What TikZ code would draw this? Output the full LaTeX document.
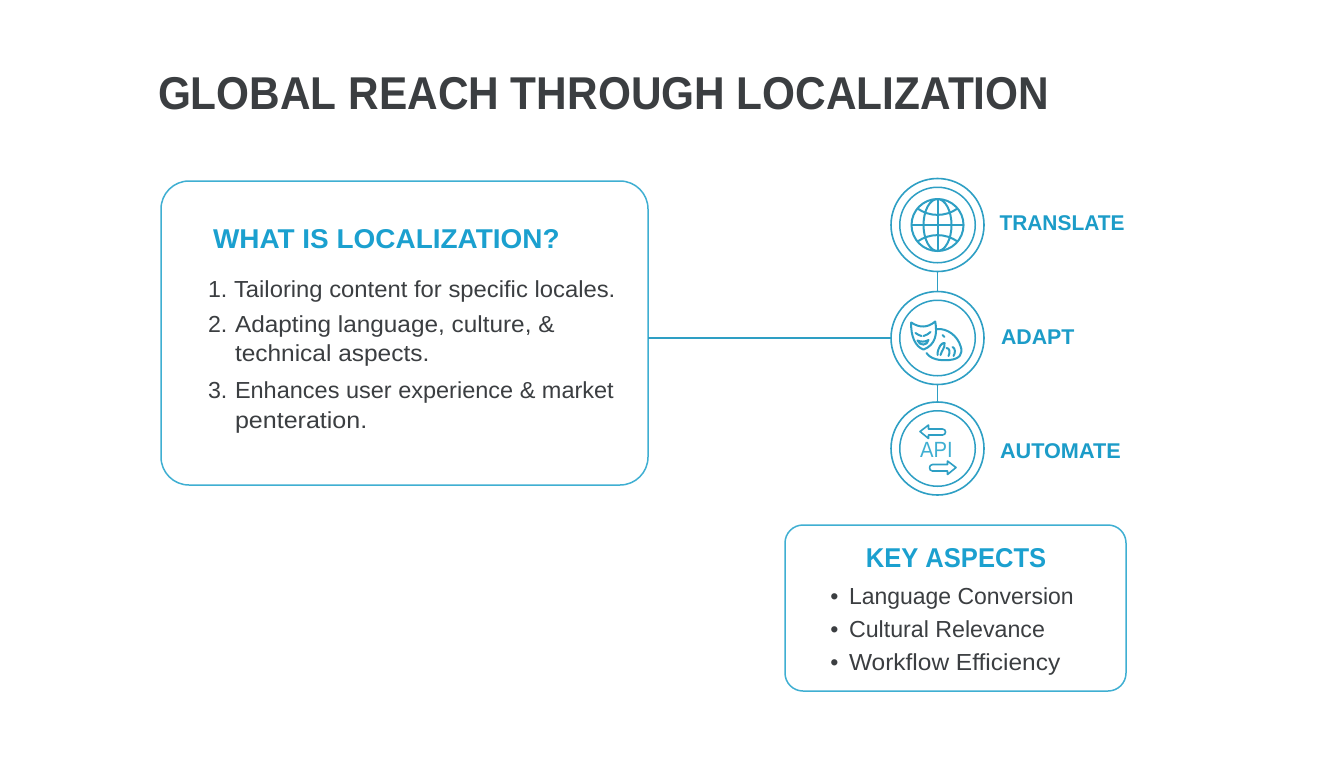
\documentclass[tikz,border=0pt]{standalone}
\usepackage{fontspec}
\setmainfont{Liberation Sans}
\definecolor{accent}{HTML}{1BA0CF}
\definecolor{labelc}{HTML}{1C9CC8}
\definecolor{strokec}{HTML}{3FAFD2}
\definecolor{iconc}{HTML}{2E9FC4}
\definecolor{darktext}{HTML}{3B3E41}
\newcommand{\sx}[2]{\scalebox{#1}[1]{#2}}
\tikzset{
  txt/.style={inner sep=0pt,outer sep=0pt,anchor=base west},
  titletext/.style={txt,text=darktext,font=\fontsize{34.5}{40}\selectfont\bfseries},
  headtext/.style={txt,text=accent,font=\fontsize{20.4}{24}\selectfont\bfseries},
  bodytext/.style={txt,text=darktext,font=\fontsize{17.4}{20}\selectfont},
  sidetext/.style={txt,text=labelc,font=\fontsize{16}{20}\selectfont\bfseries},
  panel/.style={draw=strokec,line width=1.5pt*0.75,fill=white,inner sep=0pt,outer sep=0pt},
  ring/.style={circle,draw=iconc,line width=1.6pt*0.75,fill=white,minimum size=93*0.75pt,inner sep=0pt,outer sep=0pt},
  innerring/.style={circle,draw=iconc,line width=1.5pt*0.75,minimum size=75.5*0.75pt,inner sep=0pt,outer sep=0pt},
  link/.style={draw=iconc,line width=1.5pt*0.75},
  icon/.style={draw=iconc,line width=2pt*0.75,line join=round,line cap=round},
}
\begin{document}
\begin{tikzpicture}[x=0.75pt,y=-0.75pt]
\useasboundingbox (0,0) rectangle (1344,768);
\fill[white] (0,0) rectangle (1344,768);

\node[titletext] (title) at (158,109) {\sx{0.921}{GLOBAL REACH THROUGH LOCALIZATION}};

% main panel
\node[panel,rounded corners=28*0.75pt,minimum width=487*0.75pt,minimum height=304*0.75pt,anchor=north west] (box) at (161,181) {};
\node[headtext] (whatis) at (213,248) {\sx{1.027}{WHAT IS LOCALIZATION?}};
\node[bodytext] (n1) at (208,297) {1.};
\node[bodytext] (l1) at (234,297) {\sx{1.027}{Tailoring content for specific locales.}};
\node[bodytext] (n2) at (208,332) {2.};
\node[bodytext] (l2) at (235,332) {\sx{1.05}{Adapting language, culture, \&}};
\node[bodytext] (l2b) at (235,361) {\sx{1.054}{technical aspects.}};
\node[bodytext] (n3) at (208,398) {3.};
\node[bodytext] (l3) at (235,398) {\sx{1.013}{Enhances user experience \& market}};
\node[bodytext] (l3b) at (235,428) {\sx{1.08}{penteration.}};

% rings
\node[ring] (translate) at (937.5,225) {};
\node[ring] (adapt) at (937.5,338) {};
\node[ring] (automate) at (937.5,448.5) {};
\node[innerring] (translatei) at (translate) {};
\node[innerring] (adapti) at (adapt) {};
\node[innerring] (automatei) at (automate) {};

% connectors
\draw[link] (translate.south) -- (adapt.north);
\draw[link] (adapt.south) -- (automate.north);
\draw[link] (box.east |- adapt.west) -- (adapt.west);

% globe
\begin{scope}[shift={(translate)},icon]
  \draw (0,0) circle [radius=26];
  \draw (-26,0) -- (26,0);
  \draw (0,-26) -- (0,26);
  \draw (0,0) ellipse [x radius=14,y radius=26];
  \draw (-20,-16.5) .. controls (-8,-8) and (8,-8) .. (20,-16.5);
  \draw (-20,16.5) .. controls (-8,8) and (8,8) .. (20,16.5);
\end{scope}

% masks
\begin{scope}[shift={(adapt)},icon]
  \draw (-26.3,-15.5) .. controls (-18,-10) and (-10,-10) .. (-2.3,-16.5)
        .. controls (0,-4) and (-2,7) .. (-14,11.5)
        .. controls (-22,9) and (-27,-2) .. (-26.3,-15.5);
  \draw (-22,-5) .. controls (-20,-3) and (-18,-3) .. (-16,-2);
  \draw (-14,-2) .. controls (-11,-3) and (-9,-4) .. (-7,-6);
  \draw (-20,2.5) .. controls (-17,4) and (-12,4) .. (-9,2)
        .. controls (-10,8) and (-18,8) .. (-20,2.5);
  \draw (-1,-9) .. controls (10,-10) and (20,-2) .. (23,8)
        .. controls (26,16) and (22,21) .. (12,22)
        .. controls (2,23) and (-7,21) .. (-11,15);
  \draw (5,-3) -- (7,-1);
  \draw (0,17) .. controls (0,9) and (5,4) .. (7,5) .. controls (8,9) and (4,13) .. (3,17);
  \draw (9,10) .. controls (12,10) and (13,14) .. (11,18);
  \draw (15,9) .. controls (18,10) and (18,15) .. (16,18);
\end{scope}

% API icon
\node[txt,anchor=center,text=strokec,font=\fontsize{16.5}{18}\selectfont] (api) at ([xshift=-1*0.75pt,yshift=-1.5*0.75pt]automate.center) {\sx{0.92}{API}};
\begin{scope}[shift={(automate)},icon,line width=1.6pt*0.75]
  \draw (-17.5,-17) -- (-9,-23.5) -- (-9,-19.5) -- (5,-19.5)
        .. controls (9,-19.5) and (9,-13.5) .. (5,-13.5)
        -- (-9,-13.5) -- (-9,-10) -- cycle;
  \draw (18.5,19) -- (10,12.5) -- (10,16) -- (-5,16)
        .. controls (-9,16) and (-9,22.5) .. (-5,22.5)
        -- (10,22.5) -- (10,26) -- cycle;
\end{scope}

\node[sidetext] (t1) at (999.5,230) {\sx{0.98}{TRANSLATE}};
\node[sidetext] (t2) at (1001,344) {ADAPT};
\node[sidetext] (t3) at (1000,458) {\sx{1.015}{AUTOMATE}};

% key aspects
\node[panel,rounded corners=18*0.75pt,minimum width=341*0.75pt,minimum height=166*0.75pt,anchor=north west] (keybox) at (785,525) {};
\node[headtext,anchor=base] (keyhead) at (956,567) {\sx{0.94}{KEY ASPECTS}};
\node[bodytext,anchor=base] (b1) at (834.5,604) {•};
\node[bodytext] (k1) at (849,604) {\sx{0.99}{Language Conversion}};
\node[bodytext,anchor=base] (b2) at (834.5,637) {•};
\node[bodytext] (k2) at (849,637) {Cultural Relevance};
\node[bodytext,anchor=base] (b3) at (834.5,670) {•};
\node[bodytext] (k3) at (849,670) {\sx{1.055}{Workflow Efficiency}};
\end{tikzpicture}
\end{document}
